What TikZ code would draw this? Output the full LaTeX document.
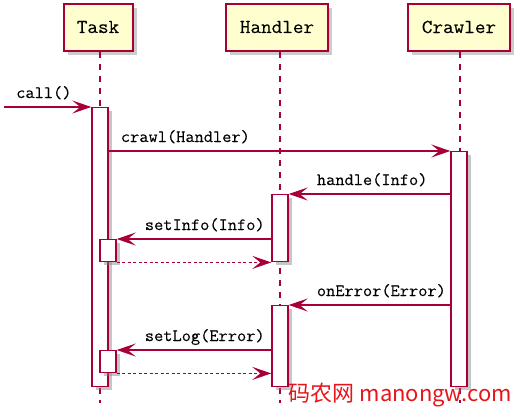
\documentclass[tikz,border=0pt]{standalone}
\usepackage{fontspec}
\newfontfamily\umlfont[FakeStretch=1.04, FakeBold=0.15]{Latin Modern Mono}
\newfontfamily\cjkfont{Noto Sans CJK SC}
\usepackage{tikz}
\usetikzlibrary{arrows.meta, positioning, calc, shadows}
\usepackage{xcolor}
\definecolor{umlred}{HTML}{A80036}
\definecolor{umlfill}{HTML}{FEFECE}
\definecolor{markred}{HTML}{E8141B}

\begin{document}
\begin{tikzpicture}[x=1pt, y=-1pt,
    actor/.style={draw=umlred, fill=umlfill, line width=2pt,
      minimum height=47pt, inner sep=0pt,
      font=\umlfont\fontsize{19.8}{19.8}\selectfont,
      drop shadow={shadow xshift=4pt, shadow yshift=-4pt, opacity=0.4}},
    lifeline/.style={umlred, line width=1.2pt, dash pattern=on 6pt off 6pt},
    activ/.style={draw=umlred, fill=white, line width=1.4pt, anchor=north,
      minimum width=16pt, inner sep=0pt,
      drop shadow={shadow xshift=4pt, shadow yshift=-3pt, opacity=0.45}},
    msg/.style={umlred, line width=1.4pt,
      -{Stealth[length=19pt, width=13pt, inset=8pt]}},
    ret/.style={msg, dash pattern=on 3pt off 2.5pt},
    lbl/.style={font=\umlfont\fontsize{17.2}{17.2}\selectfont,
      inner sep=0pt, anchor=base west}]
    \useasboundingbox (0,0) rectangle (524,418);

    % participants
    \node[actor, minimum width=69pt] (task) at (98,27) {Task};
    \node[actor, minimum width=102pt] (handler) at (277,27) {Handler};
    \node[actor, minimum width=102pt] (crawler) at (459,27) {Crawler};

    \draw[lifeline] ([xshift=2pt]task.south) -- ++(0,351);
    \draw[lifeline] ([xshift=3pt]handler.south) -- ++(0,351);
    \draw[lifeline] ([xshift=1pt]crawler.south) -- ++(0,351);

    % activations
    \node[activ, minimum height=279pt] (actTask) at (100,107) {};
    \node[activ, minimum height=235pt] (actCrawler) at (459,151) {};
    \node[activ, minimum height=67pt] (actHandlerA) at (280,194) {};
    \node[activ, minimum height=81pt] (actHandlerB) at (280,305) {};
    \node[activ, minimum height=22pt] (actTaskA) at (108,239) {};
    \node[activ, minimum height=22pt] (actTaskB) at (108,350) {};

    % messages
    \coordinate (start) at (4,107);
    \draw[msg] (start) -- (actTask.north west);
    \node[lbl] (lblCall) at ($(start)+(12,-9)$) {call()};

    \draw[msg] (actTask.east |- actCrawler.north) -- (actCrawler.north west);
    \node[lbl] (lblCrawl) at ($(actTask.east |- actCrawler.north)+(12,-9)$) {crawl(Handler)};

    \draw[msg] (actCrawler.west |- actHandlerA.north) -- (actHandlerA.north east);
    \node[lbl] (lblHandle) at ($(actHandlerA.north east)+(28,-9)$) {handle(Info)};

    \draw[msg] (actHandlerA.west |- actTaskA.north) -- (actTaskA.north east);
    \node[lbl] (lblSetInfo) at ($(actTaskA.north east)+(28,-9)$) {setInfo(Info)};

    \draw[ret] (actTaskA.south east) -- (actHandlerA.south west);

    \draw[msg] (actCrawler.west |- actHandlerB.north) -- (actHandlerB.north east);
    \node[lbl] (lblOnError) at ($(actHandlerB.north east)+(28,-9)$) {onError(Error)};

    \draw[msg] (actHandlerB.west |- actTaskB.north) -- (actTaskB.north east);
    \node[lbl] (lblSetLog) at ($(actTaskB.north east)+(28,-9)$) {setLog(Error)};

    \draw[ret] (actTaskB.south east) -- (actHandlerB.west |- actTaskB.south);

    % watermark
    \node[font=\cjkfont\fontsize{22}{22}\selectfont, text=markred,
      inner sep=0pt, anchor=base east] (mark) at (512,401) {码农网 manongw.com};
\end{tikzpicture}
\end{document}
